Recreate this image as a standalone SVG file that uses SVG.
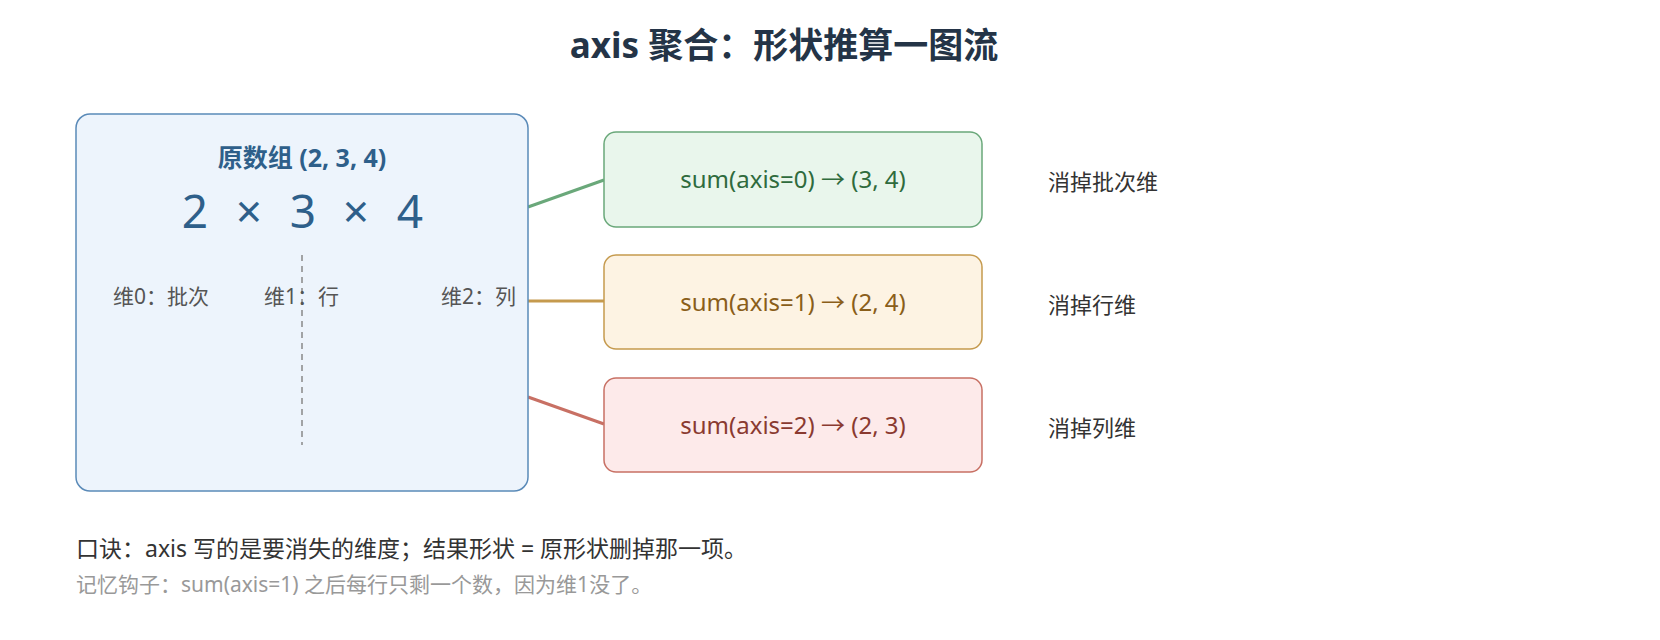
<svg xmlns="http://www.w3.org/2000/svg" width="1660" height="640" viewBox="0 0 1660 640">
<style>
text{font-family:"Noto Sans","Noto Sans CJK SC",sans-serif}
.t{font-size:35px;font-weight:bold;fill:#243447}
.lab{font-size:21px;fill:#555}
.op{font-size:24px;text-anchor:middle}
.side{font-size:22px;fill:#333}
.big{font-size:46px;fill:#2e5f8a;text-anchor:middle}
</style>
<rect width="1660" height="640" fill="#fff"/>
<text class="t" x="784" y="58" text-anchor="middle">axis 聚合：形状推算一图流</text>
<g id="connectors" stroke-width="3" fill="none">
<line x1="528" y1="207" x2="604" y2="180" stroke="#6aa87a"/>
<line x1="528" y1="301" x2="604" y2="301" stroke="#c59a4e"/>
<line x1="528" y1="397" x2="604" y2="424" stroke="#c87064"/>
</g>
<g id="array">
<rect x="76" y="114" width="452" height="377" rx="14" fill="#edf4fc" stroke="#5a8ab8" stroke-width="1.5"/>
<text x="302" y="167" text-anchor="middle" font-size="25" font-weight="bold" fill="#2e5f8a">原数组 (2, 3, 4)</text>
<text class="big" x="195" y="228">2</text>
<text class="big" x="249" y="228">×</text>
<text class="big" x="303" y="228">3</text>
<text class="big" x="356" y="228">×</text>
<text class="big" x="410" y="228">4</text>
<line x1="302" y1="255" x2="302" y2="445" stroke="#888" stroke-width="1.5" stroke-dasharray="6,5"/>
<text class="lab" x="113" y="304">维0：批次</text>
<text class="lab" x="264" y="304">维1：行</text>
<text class="lab" x="516" y="304" text-anchor="end">维2：列</text>
</g>
<g id="axis0">
<rect x="604" y="132" width="378" height="95" rx="12" fill="#e9f6ec" stroke="#6aa87a" stroke-width="1.5"/>
<text class="op" x="793" y="188" fill="#2f6b3d">sum(axis=0) → (3, 4)</text>
<text class="side" x="1048" y="190">消掉批次维</text>
</g>
<g id="axis1">
<rect x="604" y="255" width="378" height="94" rx="12" fill="#fdf3e3" stroke="#c59a4e" stroke-width="1.5"/>
<text class="op" x="793" y="311" fill="#8a5e1a">sum(axis=1) → (2, 4)</text>
<text class="side" x="1048" y="313">消掉行维</text>
</g>
<g id="axis2">
<rect x="604" y="378" width="378" height="94" rx="12" fill="#fdeaea" stroke="#c87064" stroke-width="1.5"/>
<text class="op" x="793" y="434" fill="#8a3a30">sum(axis=2) → (2, 3)</text>
<text class="side" x="1048" y="436">消掉列维</text>
</g>
<text x="76" y="557" font-size="23" fill="#333">口诀：axis 写的是要消失的维度；结果形状 = 原形状删掉那一项。</text>
<text x="76" y="592" font-size="21" fill="#999">记忆钩子：sum(axis=1) 之后每行只剩一个数，因为维1没了。</text>
</svg>
